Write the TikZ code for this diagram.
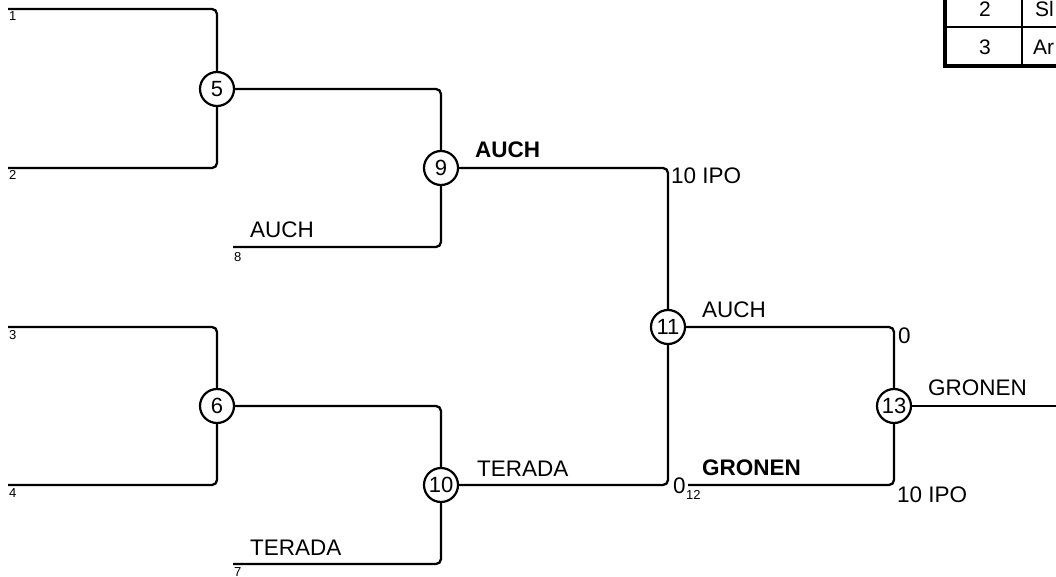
\documentclass[tikz,border=0pt]{standalone}
\usepackage{fontspec}
\setmainfont{Liberation Sans}
\begin{document}
\begin{tikzpicture}[x=1pt,y=-1pt,
  wire/.style={line width=2.3pt, rounded corners=5pt},
  circ/.style={circle, draw, line width=2.2pt, fill=white, minimum size=34pt, inner sep=0pt, font=\fontsize{22}{22}\selectfont},
  lbl/.style={anchor=base west, inner sep=0pt, font=\fontsize{22.5}{22.5}\selectfont},
  blbl/.style={anchor=base west, inner sep=0pt, font=\fontsize{22.5}{22.5}\selectfont\bfseries},
  small/.style={anchor=base west, inner sep=0pt, font=\fontsize{13}{13}\selectfont},
  tbl/.style={anchor=base, inner sep=0pt, font=\fontsize{21}{21}\selectfont}]
\useasboundingbox (0,0) rectangle (1056,577);
\clip (0,0) rectangle (1056,577);
% round nodes
\node[circ] (c5) at (217,89) {5};
\node[circ] (c6) at (217,406) {6};
\node[circ] (c9) at (441,168) {9};
\node[circ] (c10) at (441,485) {10};
\node[circ] (c11) at (668,327) {11};
\node[circ] (c13) at (894,406) {13};
% entry points
\coordinate (i1) at (8,9);
\coordinate (i2) at (8,168);
\coordinate (i3) at (8,327);
\coordinate (i4) at (8,485);
\coordinate (i8) at (233,247);
\coordinate (i7) at (233,564);
\coordinate (i12) at (688,485);
\coordinate (out) at (1056,406);
% wires
\draw[wire] (i1) -| (c5);
\draw[wire] (i2) -| (c5);
\draw[wire] (i3) -| (c6);
\draw[wire] (i4) -| (c6);
\draw[wire] (c5) -| (c9);
\draw[wire] (i8) -| (c9);
\draw[wire] (c6) -| (c10);
\draw[wire] (i7) -| (c10);
\draw[wire] (c9) -| (c11);
\draw[wire] (c10) -| (c11);
\draw[wire] (c11) -| (c13);
\draw[wire] (i12) -| (c13);
\draw[wire] (c13) -- (out);
% small labels
\node[small] (s1) at (9,21) {1};
\node[small] (s2) at (9,180) {2};
\node[small] (s3) at (9,339) {3};
\node[small] (s4) at (9,497) {4};
\node[small] (s8) at (234,261) {8};
\node[small] (s7) at (234,576) {7};
\node[small] (s12) at (686,499) {12};
% texts
\node[lbl] (t8) at (250,237) {AUCH};
\node[lbl] (t7) at (250,555) {TERADA};
\node[blbl] (t9) at (475,158) {AUCH};
\node[lbl] (t10) at (477,476) {TERADA};
\node[lbl] (sc9) at (671,184) {10 IPO};
\node[lbl] (sc10) at (673,493) {0};
\node[lbl] (t11) at (702,317) {AUCH};
\node[blbl] (t12) at (702,475) {GRONEN};
\node[lbl] (sc11) at (898,343) {0};
\node[lbl] (sc12) at (897,502) {10 IPO};
\node[lbl] (t13) at (928,395) {GRONEN};
% table
\draw[line width=2pt] (945,27) -- (1080,27);
\draw[line width=2pt] (1022,-20) -- (1022,66);
\draw[line width=4pt] (945,-20) -- (945,66.5) -- (1080,66.5);
\node[tbl] (r2) at (985,17) {2};
\node[tbl] (r3) at (985,55) {3};
\node[tbl, anchor=base west] (r2b) at (1035,17) {Sl};
\node[tbl, anchor=base west] (r3b) at (1033,55) {Ar};
\end{tikzpicture}
\end{document}
